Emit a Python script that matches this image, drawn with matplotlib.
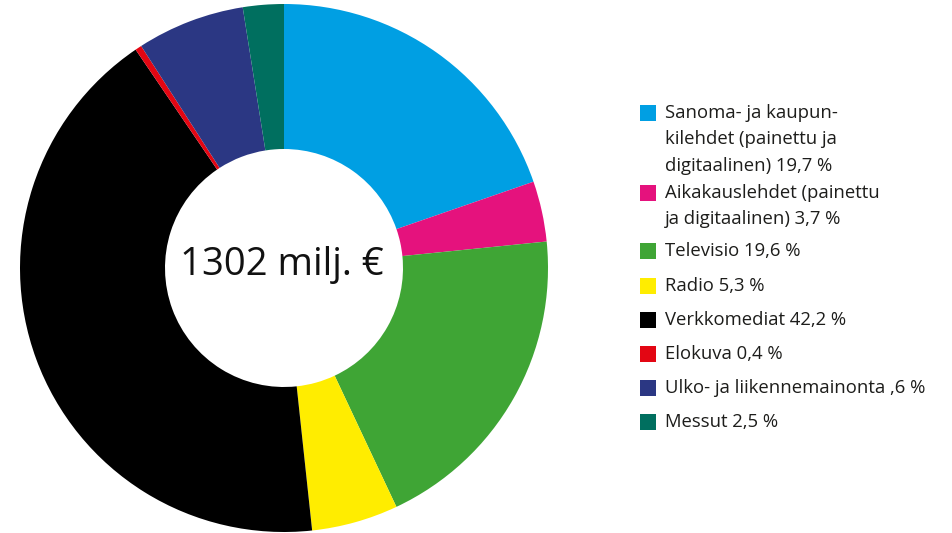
import matplotlib.pyplot as plt
from matplotlib.patches import Rectangle

plt.rcParams['font.family'] = ['Open Sans', 'DejaVu Sans']

# data
labels = [
    "Sanoma- ja kaupun-\nkilehdet (painettu ja\ndigitaalinen) 19,7 %",
    "Aikakauslehdet (painettu\nja digitaalinen) 3,7 %",
    "Televisio 19,6 %",
    "Radio 5,3 %",
    "Verkkomediat 42,2 %",
    "Elokuva 0,4 %",
    "Ulko- ja liikennemainonta ,6 %",
    "Messut 2,5 %",
]
shares = [19.7, 3.7, 19.6, 5.3, 42.2, 0.4, 6.6, 2.5]
colors = ["#009fe3", "#e5127d", "#3fa535", "#ffed00", "#000000",
          "#e30613", "#2b3783", "#006f5f"]
total_text = "1302 milj. €"

W, H = 952, 533
fig = plt.figure(figsize=(W / 100, H / 100), dpi=100)

# donut, centre at (284, 268) px from top-left, radius 264 px
cx, cy, R = 284, 268, 264
half = 266
ax = fig.add_axes([(cx - half) / W, (H - cy - half) / H, 2 * half / W, 2 * half / H])
ax.pie(shares, colors=colors, startangle=90, counterclock=False, radius=1,
       wedgeprops=dict(width=145 / R, linewidth=0))
ax.set_xlim(-half / R, half / R)
ax.set_ylim(-half / R, half / R)
ax.set_aspect('equal')
ax.axis('off')
ax.text(-0.01, 0.01, total_text, ha='center', va='center', fontsize=27.5,
        color='#111111')

# legend drawn by hand
item_y = [113, 193, 251, 286, 320, 354, 388, 422]
line_h = 26.5
for lab, col, y0 in zip(labels, colors, item_y):
    fig.patches.append(Rectangle((640 / W, (H - y0 - 8) / H), 16 / W, 16 / H,
                                 transform=fig.transFigure, facecolor=col,
                                 edgecolor='none'))
    for k, line in enumerate(lab.split("\n")):
        fig.text(665 / W, (H - y0 - k * line_h) / H, line, ha='left',
                 va='center', fontsize=13.3, color='#1d1d1b')

fig.savefig("out.png", dpi=100)
